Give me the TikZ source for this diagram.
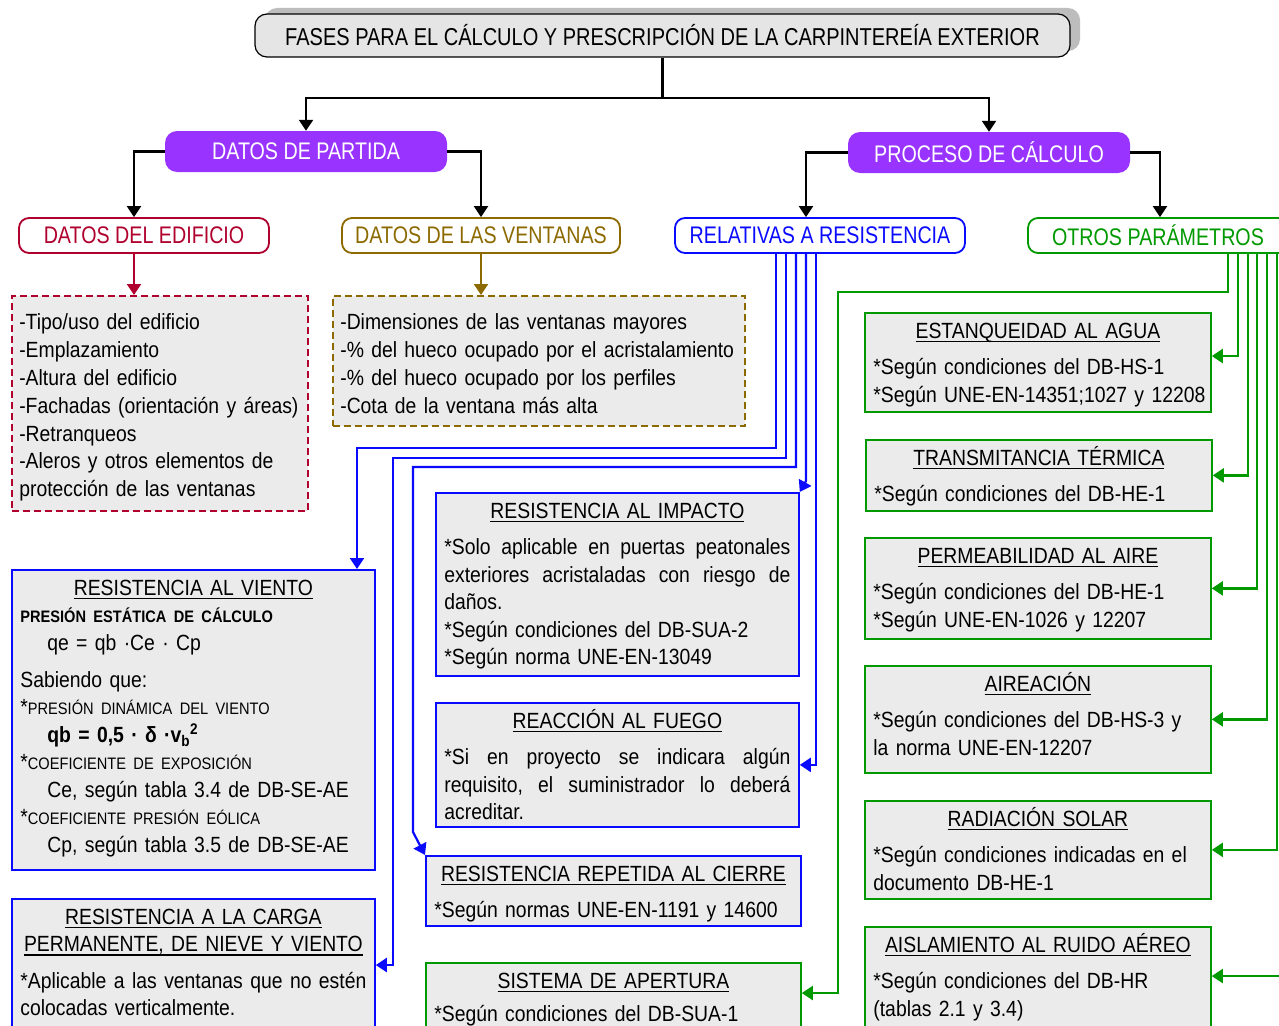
\documentclass[tikz,border=0pt]{standalone}
\usepackage{fontspec}
\setmainfont{Liberation Sans}[FakeStretch=0.88]
\newfontfamily\estrecha{Liberation Sans}[FakeStretch=0.82]
\usetikzlibrary{arrows.meta,shadows}
\definecolor{morado}{HTML}{9933FF}
\definecolor{granate}{HTML}{B0002E}
\definecolor{ocre}{HTML}{8C6A00}
\definecolor{azul}{HTML}{0A0AFF}
\definecolor{verde}{HTML}{009900}
\definecolor{gris}{HTML}{EBEBEB}
\newcommand\cuerpo{\fontsize{22}{27.5}\selectfont}
\newcommand\rotulo{\estrecha\fontsize{24}{28}\selectfont}
\newcommand\peq{\fontsize{16.6}{20}\selectfont}
\newcommand\subr[1]{\leavevmode\setbox0\hbox{#1}\rlap{\rule[-4pt]{\wd0}{1.6pt}}\box0}
\newcommand\lleno[1]{\leavevmode\hbox to\linewidth{#1}}
\begin{document}
\begin{tikzpicture}[x=1pt, y=-1pt,
    flecha/.style={-{Triangle[width=14pt,length=11pt]}, line width=2.2pt},
    titulo/.style={draw, line width=1.2pt, fill=black!10, rounded corners=12pt,
      minimum width=815pt, minimum height=43pt, font={\estrecha\fontsize{24.4}{28}\selectfont},
      general shadow={fill=black!26, shadow xshift=10pt, shadow yshift=6pt}},
    fase/.style={fill=morado, rounded corners=12pt, text=white,
      minimum width=282pt, minimum height=41pt, font=\rotulo},
    grupo/.style={draw=#1, text=#1, line width=1.8pt, fill=white,
      rounded corners=10pt, minimum height=35pt, font=\rotulo},
    lista/.style={draw=#1, dash pattern=on 7pt off 4pt, line width=1.6pt,
      fill=gris, anchor=north west, inner xsep=7.5pt, inner ysep=4pt,
      text height=30pt, font={\fontsize{22}{27.8}\selectfont}},
    caja/.style={draw=#1, line width=1.8pt, fill=gris, anchor=north west,
      inner xsep=8.5pt, inner ysep=4pt, text height=21.5pt, font=\cuerpo}]
  \useasboundingbox (0,0) rectangle (1279,1025);
  \clip (0,0) rectangle (1279,1025);
  \fill[white] (0,0) rectangle (1279,1025);

  % cabecera y fases
  \node[titulo] (fases) at (662.5,35.5)
    {FASES PARA EL CÁLCULO Y PRESCRIPCIÓN DE LA CARPINTEREÍA EXTERIOR};
  \node[fase] (partida) at (306,151.5) {DATOS DE PARTIDA};
  \node[fase] (proceso) at (989,152.5) {PROCESO DE CÁLCULO};

  \node[grupo=granate, minimum width=250pt] (edificio) at (144,235.5) {DATOS DEL EDIFICIO};
  \node[grupo=ocre, minimum width=278pt] (ventanas) at (481,235.5) {DATOS DE LAS VENTANAS};
  \node[grupo=azul, minimum width=290pt] (relativas) at (820,235.5) {RELATIVAS A RESISTENCIA};
  \node[grupo=verde, minimum width=260pt] (otros) at (1158,235.5) {OTROS PARÁMETROS};

  % datos de partida
  \node[lista=granate, text width=281pt, text depth=177pt] (datosedif) at (11,295)
    {-Tipo/uso del edificio\\
     -Emplazamiento\\
     -Altura del edificio\\
     \mbox{-Fachadas (orientación y áreas)}\\
     -Retranqueos\\
     -Aleros y otros elementos de\\
     protección de las ventanas};
  \node[lista=ocre, text width=397pt, text depth=92pt] (datosvent) at (332,295)
    {-Dimensiones de las ventanas mayores\\
     \mbox{-\% del hueco ocupado por el acristalamiento}\\
     -\% del hueco ocupado por los perfiles\\
     -Cota de la ventana más alta};

  % relativas a resistencia
  \node[caja=azul, text width=346pt, text depth=270.5pt] (viento) at (11,569)
    {{\centering\subr{RESISTENCIA AL VIENTO}\par}
     {\peq\bfseries PRESIÓN ESTÁTICA DE CÁLCULO}\par
     \hspace*{27pt}qe = qb ·Ce · Cp\par
     \vspace{9.5pt}
     Sabiendo que:\\
     {*}{\peq PRESIÓN DINÁMICA DEL VIENTO}\\
     \hspace*{27pt}{\bfseries qb = 0,5 · δ ·v\textsubscript{b}\textsuperscript{2}}\\
     {*}{\peq COEFICIENTE DE EXPOSICIÓN}\\
     \hspace*{27pt}Ce, según tabla 3.4 de DB-SE-AE\\
     {*}{\peq COEFICIENTE PRESIÓN EÓLICA}\\
     \hspace*{27pt}Cp, según tabla 3.5 de DB-SE-AE};
  \node[caja=azul, text width=346pt, text depth=150pt] (carga) at (11,898)
    {{\centering\subr{RESISTENCIA A LA CARGA}\\
      \subr{PERMANENTE, DE NIEVE Y VIENTO}\par}
     \vspace{9pt}
     \lleno{*Aplicable\hfill a\hfill las\hfill ventanas\hfill que\hfill no\hfill estén}\\
     colocadas verticalmente.};
  \node[caja=azul, text width=346pt, text depth=153.5pt] (impacto) at (435,492)
    {{\centering\subr{RESISTENCIA AL IMPACTO}\par}
     \vspace{9pt}
     \lleno{*Solo\hfill aplicable\hfill en\hfill puertas\hfill peatonales}\\
     \lleno{exteriores\hfill acristaladas\hfill con\hfill riesgo\hfill de}\\
     daños.\\
     {*}Según condiciones del DB-SUA-2\\
     {*}Según norma UNE-EN-13049};
  \node[caja=azul, text width=346pt, text depth=94.5pt] (fuego) at (435,702)
    {{\centering\subr{REACCIÓN AL FUEGO}\par}
     \vspace{9pt}
     \lleno{*Si\hfill en\hfill proyecto\hfill se\hfill indicara\hfill algún}\\
     \lleno{requisito,\hfill el\hfill suministrador\hfill lo\hfill deberá}\\
     acreditar.};
  \node[caja=azul, text width=358pt, text depth=40.5pt] (repetida) at (425,855)
    {{\centering\subr{RESISTENCIA REPETIDA AL CIERRE}\par}
     \vspace{9pt}
     *Según normas UNE-EN-1191 y 14600};
  \node[caja=verde, text width=358pt, text depth=150pt] (apertura) at (425,962)
    {{\centering\subr{SISTEMA DE APERTURA}\par}
     \vspace{6pt}
     *Según condiciones del DB-SUA-1};

  % otros parametros
  \node[caja=verde, text width=329pt, text depth=69.5pt] (estanq) at (864,312)
    {{\centering\subr{ESTANQUEIDAD AL AGUA}\par}
     \vspace{9pt}
     *Según condiciones del DB-HS-1\\
     \mbox{*Según UNE-EN-14351;1027 y 12208}};
  \node[caja=verde, text width=329pt, text depth=41.5pt] (transm) at (865,439)
    {{\centering\subr{TRANSMITANCIA TÉRMICA}\par}
     \vspace{9pt}
     *Según condiciones del DB-HE-1};
  \node[caja=verde, text width=329pt, text depth=71.5pt] (permeab) at (864,537)
    {{\centering\subr{PERMEABILIDAD AL AIRE}\par}
     \vspace{9pt}
     *Según condiciones del DB-HE-1\\
     {*}Según UNE-EN-1026 y 12207};
  \node[caja=verde, text width=329pt, text depth=77.5pt] (aireac) at (864,665)
    {{\centering\subr{AIREACIÓN}\par}
     \vspace{9pt}
     *Según condiciones del DB-HS-3 y\\
     la norma UNE-EN-12207};
  \node[caja=verde, text width=329pt, text depth=68.5pt] (radiac) at (864,800)
    {{\centering\subr{RADIACIÓN SOLAR}\par}
     \vspace{9pt}
     *Según condiciones indicadas en el\\
     documento DB-HE-1};
  \node[caja=verde, text width=329pt, text depth=150pt] (aislam) at (864,926)
    {{\centering\subr{AISLAMIENTO AL RUIDO AÉREO}\par}
     \vspace{9pt}
     *Según condiciones del DB-HR\\
     (tablas 2.1 y 3.4)};

  % conectores
  \draw[flecha] (fases.south) -- ++(0,40) -| (partida.north);
  \draw[flecha] (fases.south) -- ++(0,40) -| (proceso.north);
  \draw[flecha] (partida.west) -| ([xshift=-10pt]edificio.north);
  \draw[flecha] (partida.east) -| (ventanas.north);
  \draw[flecha] (proceso.west) -| ([xshift=-14pt]relativas.north);
  \draw[flecha] (proceso.east) -| ([xshift=2pt]otros.north);
  \draw[flecha, granate] ([xshift=-10pt]edificio.south) -- ([xshift=-10pt]edificio.south |- datosedif.north);
  \draw[flecha, ocre] (ventanas.south) -- (ventanas.south |- datosvent.north);

  \coordinate (a1) at (357,448);
  \coordinate (a2) at (393,458);
  \coordinate (a3) at (413,467);
  \coordinate (a3b) at (413,832);
  \begin{scope}[azul]
    \draw[flecha] ([xshift=-44pt]relativas.south) |- (a1) -- (a1 |- viento.north);
    \draw[flecha] ([xshift=-34pt]relativas.south) |- (a2) |- ([yshift=-67pt]carga.north east);
    \draw[flecha] ([xshift=-24pt]relativas.south) |- (a3) -- (a3b) -- (repetida.north west);
    \draw[flecha] ([xshift=-14pt]relativas.south) -- ++(0,227) -- (impacto.north east);
    \draw[flecha] ([xshift=-4pt]relativas.south) |- (fuego.east);
  \end{scope}

  \coordinate (v1) at (838,292);
  \begin{scope}[verde]
    \draw[flecha] ([xshift=70pt]otros.south) |- (v1) |- ([yshift=-31pt]apertura.north east);
    \draw[flecha] ([xshift=80pt]otros.south) |- ([yshift=-44pt]estanq.north east);
    \draw[flecha] ([xshift=90pt]otros.south) |- (transm.east);
    \draw[flecha] ([xshift=99pt]otros.south) |- (permeab.east);
    \draw[flecha] ([xshift=109pt]otros.south) |- (aireac.east);
    \draw[flecha] ([xshift=119pt]otros.south) |- (radiac.east);
    \draw[flecha] ([xshift=129pt]otros.south) |- ([yshift=-50pt]aislam.north east);
  \end{scope}
\end{tikzpicture}
\end{document}
